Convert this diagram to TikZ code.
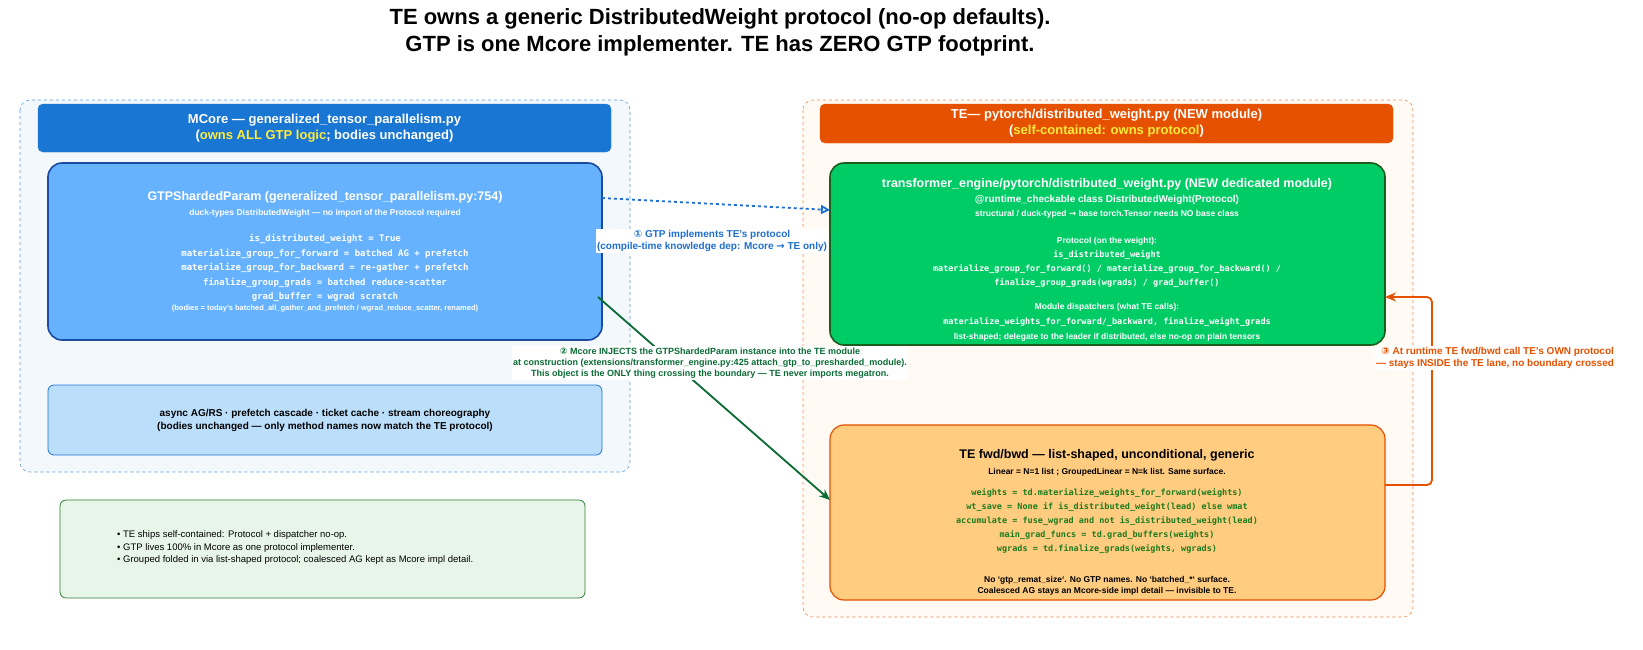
\documentclass[tikz,border=0pt]{standalone}
\usepackage{fontspec}
\setmainfont{Liberation Sans}
\setmonofont{DejaVu Sans Mono}
\newfontfamily\symf{DejaVu Sans}
\usetikzlibrary{arrows.meta}
\definecolor{laneB}{HTML}{F3F8FD}
\definecolor{laneBd}{HTML}{5E9BDB}
\definecolor{hdrB}{HTML}{1976D2}
\definecolor{gtpF}{HTML}{66B2FF}
\definecolor{gtpD}{HTML}{1A4BA0}
\definecolor{asyF}{HTML}{BBDEFB}
\definecolor{asyD}{HTML}{1E78D0}
\definecolor{noteF}{HTML}{E8F5E9}
\definecolor{noteD}{HTML}{2E7D32}
\definecolor{laneO}{HTML}{FFFAF3}
\definecolor{laneOd}{HTML}{F08A50}
\definecolor{hdrO}{HTML}{E65100}
\definecolor{grnF}{HTML}{00CC66}
\definecolor{grnD}{HTML}{1B5E20}
\definecolor{orF}{HTML}{FFCC80}
\definecolor{codeG}{HTML}{1E7B1E}
\definecolor{arB}{HTML}{1E6FD0}
\definecolor{arG}{HTML}{0A6B35}
\definecolor{yel}{HTML}{FFEB3B}
\newcommand{\ci}[1]{{\symf #1}}
\tikzset{
 lane/.style={draw=#1,dashed,rounded corners=10pt,line width=0.6pt},
 hdr/.style={fill=#1,draw=#1,rounded corners=5pt},
 card/.style={rounded corners=14pt,line width=1.6pt},
 txt/.style={align=center,inner sep=0pt},
 ttl/.style={txt,font=\bfseries\fontsize{12.5}{15}\selectfont},
 sub/.style={txt,font=\bfseries\fontsize{8.5}{11.5}\selectfont},
 code/.style={txt,font=\ttfamily\bfseries\fontsize{8.5}{14.2}\selectfont},
 lbl/.style={fill=white,align=center,inner sep=1.5pt,font=\bfseries\fontsize{10}{12}\selectfont},
}
\begin{document}
\begin{tikzpicture}[x=1pt,y=-1pt]
\node[txt,font=\bfseries\fontsize{22}{27}\selectfont] (title) at (720,32) {TE owns a generic DistributedWeight protocol (no-op defaults).\\GTP is one Mcore implementer. TE has ZERO GTP footprint.};
% lanes
\draw[lane=laneBd,fill=laneB] (20,100) rectangle (630,472);
\draw[lane=laneOd,fill=laneO] (803,100) rectangle (1413,617);
\draw[hdr=hdrB] (38,104) rectangle (611,152);
\node[txt,text=white,font=\bfseries\fontsize{13}{16}\selectfont] (hb) at (324.5,128) {MCore — generalized\_tensor\_parallelism.py\\(\textcolor{yel}{owns ALL GTP logic}; bodies unchanged)};
\draw[hdr=hdrO] (820,104) rectangle (1393,143);
\node[txt,text=white,font=\bfseries\fontsize{13}{16}\selectfont] (ho) at (1106.5,123) {TE— pytorch/distributed\_weight.py (NEW module)\\(\textcolor{yel}{self-contained: owns protocol})};
% GTP card
\draw[card,fill=gtpF,draw=gtpD] (48,163) rectangle (602,340);
\node[ttl,text=white] (gtpT) at (325,197) {GTPShardedParam (generalized\_tensor\_parallelism.py:754)};
\node[sub,text=white] (gtpS1) at (325,213) {duck-types DistributedWeight — no import of the Protocol required};
\node[code,text=white,font=\ttfamily\bfseries\fontsize{9}{14.5}\selectfont] (gtpC) at (325,268) {is\_distributed\_weight = True\\materialize\_group\_for\_forward = batched AG + prefetch\\materialize\_group\_for\_backward = re-gather + prefetch\\finalize\_group\_grads = batched reduce-scatter\\grad\_buffer = wgrad scratch};
\node[sub,text=white,font=\bfseries\fontsize{7.5}{9}\selectfont] (gtpF) at (325,309) {(bodies = today's batched\_all\_gather\_and\_prefetch / wgrad\_reduce\_scatter, renamed)};
\coordinate (gtpR) at (602,198);
\coordinate (gtpO) at (598,297);
% async
\draw[rounded corners=6pt,line width=0.8pt,fill=asyF,draw=asyD] (48,385) rectangle (602,455);
\node[txt,font=\bfseries\fontsize{10}{13}\selectfont] (asy) at (325,420) {async AG/RS · prefetch cascade · ticket cache · stream choreography\\(bodies unchanged — only method names now match the TE protocol)};
% note
\draw[rounded corners=6pt,line width=0.8pt,fill=noteF,draw=noteD] (60,500) rectangle (585,598);
\node[txt,align=left,anchor=west,font=\fontsize{9.5}{12.5}\selectfont] (note) at (117,548) {• TE ships self-contained: Protocol + dispatcher no-op.\\• GTP lives 100\% in Mcore as one protocol implementer.\\• Grouped folded in via list-shaped protocol; coalesced AG kept as Mcore impl detail.};
% green card
\draw[card,fill=grnF,draw=grnD] (830,163) rectangle (1385,345);
\node[ttl,text=white] (grT) at (1107,184) {transformer\_engine/pytorch/distributed\_weight.py (NEW dedicated module)};
\node[sub,text=white,font=\bfseries\fontsize{10}{12}\selectfont] (grS1) at (1107,200) {@runtime\_checkable class DistributedWeight(Protocol)};
\node[sub,text=white] (grS2) at (1107,214) {structural / duck-typed \ci{→} base torch.Tensor needs NO base class};
\node[sub,text=white] (grP) at (1107,241) {Protocol (on the weight):};
\node[code,text=white] (grC) at (1107,269) {is\_distributed\_weight\\materialize\_group\_for\_forward() / materialize\_group\_for\_backward() /\\finalize\_group\_grads(wgrads) / grad\_buffer()};
\node[sub,text=white] (grM) at (1107,307) {Module dispatchers (what TE calls):};
\node[code,text=white] (grC2) at (1107,322) {materialize\_weights\_for\_forward/\_backward, finalize\_weight\_grads};
\node[sub,text=white] (grL) at (1107,337) {list-shaped; delegate to the leader if distributed, else no-op on plain tensors};
\coordinate (grnL) at (830,210);
\coordinate (grnR) at (1385,297);
% orange card
\draw[card,line width=1.2pt,fill=orF,draw=hdrO] (830,425) rectangle (1385,600);
\node[ttl] (orT) at (1107,455) {TE fwd/bwd — list-shaped, unconditional, generic};
\node[sub] (orS) at (1107,472) {Linear = N=1 list ; GroupedLinear = N=k list. Same surface.};
\node[code,text=codeG] (orC) at (1107,521) {weights = td.materialize\_weights\_for\_forward(weights)\\wt\_save = None if is\_distributed\_weight(lead) else wmat\\accumulate = fuse\_wgrad and not is\_distributed\_weight(lead)\\main\_grad\_funcs = td.grad\_buffers(weights)\\wgrads = td.finalize\_grads(weights, wgrads)};
\node[sub] (orF1) at (1107,586) {No `gtp\_remat\_size`. No GTP names. No `batched\_*` surface.\\Coalesced AG stays an Mcore-side impl detail — invisible to TE.};
\coordinate (ornL) at (830,500);
\coordinate (ornR) at (1385,485);
% arrows
\draw[arB,dashed,line width=1.8pt,-{Triangle[open,length=9pt,width=9pt]}] (gtpR) -- (grnL);
\node[lbl,text=arB] (l1) at (712,241) {\ci{①} GTP implements TE's protocol\\(compile-time knowledge dep: Mcore \ci{→} TE only)};
\draw[arG,line width=1.8pt,-{Stealth[length=11pt,width=9pt]}] (gtpO) -- (ornL);
\node[lbl,text=arG,font=\bfseries\fontsize{9}{11}\selectfont] (l2) at (710,363) {\ci{②} Mcore INJECTS the GTPShardedParam instance into the TE module\\at construction (extensions/transformer\_engine.py:425 attach\_gtp\_to\_presharded\_module).\\This object is the ONLY thing crossing the boundary — TE never imports megatron.};
\draw[hdrO,line width=1.8pt,rounded corners=5pt,-{Stealth[length=11pt,width=9pt]}] (ornR) -- (1432,485) -- (1432,297) -- (grnR);
\node[lbl,text=hdrO,align=right] (l3) at (1495,358) {\ci{③} At runtime TE fwd/bwd call TE's OWN protocol\\— stays INSIDE the TE lane, no boundary crossed};
\pgfresetboundingbox
\useasboundingbox (0,0) rectangle (1643,649);
\end{tikzpicture}
\end{document}
